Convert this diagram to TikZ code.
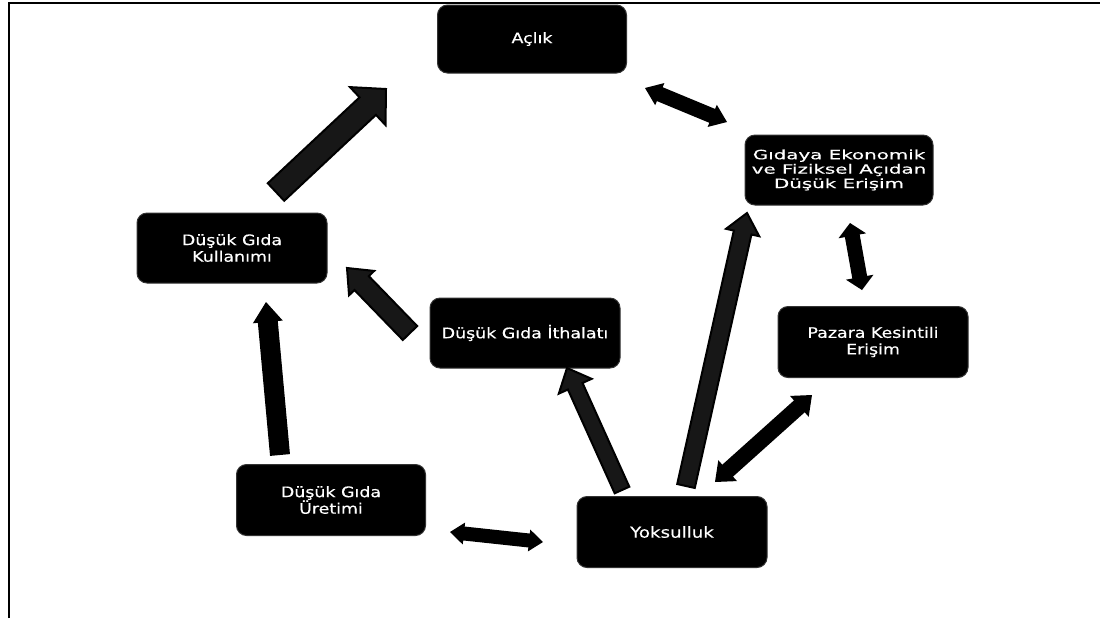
\documentclass[tikz,border=0pt]{standalone}
\usepackage{fontspec}
\usetikzlibrary{calc}
\newfontfamily\boxfnt[FakeStretch=1.2,FakeBold=0.4]{DejaVu Sans}
\newfontfamily\gidfnt[FakeStretch=1.55,FakeBold=0.4]{DejaVu Sans}
% one-headed block arrow: style, tail, tip, half shaft, half head, head length
\newcommand\blockarrow[6]{%
  \path ($(#3)!#6!(#2)$) coordinate (bahb);
  \filldraw[#1] ($(#2)!#4!90:(#3)$) -- ($(bahb)!#4!90:(#3)$) -- ($(bahb)!#5!90:(#3)$)
    -- (#3) -- ($(bahb)!#5!-90:(#3)$) -- ($(bahb)!#4!-90:(#3)$) -- ($(#2)!#4!-90:(#3)$) -- cycle;
}
% two-headed block arrow: style, tip A, tip B, half shaft, half head, head length
\newcommand\dblockarrow[6]{%
  \path ($(#2)!#6!(#3)$) coordinate (dbha);
  \path ($(#3)!#6!(#2)$) coordinate (dbhb);
  \filldraw[#1] (#2) -- ($(dbha)!#5!-90:(#3)$) -- ($(dbha)!#4!-90:(#3)$)
    -- ($(dbhb)!#4!90:(#2)$) -- ($(dbhb)!#5!90:(#2)$) -- (#3)
    -- ($(dbhb)!#5!-90:(#2)$) -- ($(dbhb)!#4!-90:(#2)$)
    -- ($(dbha)!#4!90:(#3)$) -- ($(dbha)!#5!90:(#3)$) -- cycle;
}
\tikzset{
  box/.style={rectangle, rounded corners=5pt, fill=black, draw=black!80, line width=0.5pt,
    text=white, minimum width=95pt, minimum height=35pt, inner sep=0pt, align=center,
    font=\boxfnt\fontsize{7.25}{8.3}\selectfont},
  outlined/.style={fill=black!91, draw=black, line width=1pt, line join=miter},
  solidarrow/.style={fill=black, draw=none},
  frame/.style={draw=black, line width=0.9pt}
}
\begin{document}
\begin{tikzpicture}[x=0.5pt, y=-0.5pt]
\useasboundingbox (0,0) rectangle (1100,618);
\draw[frame] (9,618) -- (9,3) -- (1100,3);

\node[box, minimum width=94.5pt, minimum height=34pt] (acl) at (532,39) {Açlık};
\node[box, minimum width=94pt, font=\gidfnt\fontsize{6.4}{7.2}\selectfont] (gid) at (839,170) {Gıdaya Ekonomik\\ve Fiziksel Açıdan\\Düşük Erişim};
\node[box] (kul) at (232,248) {Düşük Gıda\\Kullanımı};
\node[box] (ith) at (525,333) {Düşük Gıda İthalatı};
\node[box, minimum height=35.5pt] (paz) at (873,342) {Pazara Kesintili\\Erişim};
\node[box, minimum width=94.5pt, minimum height=35.5pt] (ure) at (331,500) {Düşük Gıda\\Üretimi};
\node[box, minimum height=35.5pt, font=\boxfnt\fontsize{7.6}{8.6}\selectfont] (yok) at (672,532) {Yoksulluk};

% arrow end points
\coordinate (a1t) at (276,192); \coordinate (a1h) at (386,89);
\coordinate (a2a) at (645,88);  \coordinate (a2b) at (727,122);
\coordinate (a3a) at (850,223); \coordinate (a3b) at (862,290);
\coordinate (a4a) at (812,395); \coordinate (a4b) at (715,482);
\coordinate (a5t) at (686,486); \coordinate (a5h) at (747,213);
\coordinate (a6t) at (622,490); \coordinate (a6h) at (567,368);
\coordinate (a7t) at (410,333); \coordinate (a7h) at (347,268);
\coordinate (a8t) at (280,455); \coordinate (a8h) at (266,302);
\coordinate (a9a) at (450,532); \coordinate (a9b) at (543,542);

\blockarrow{outlined}{a1t}{a1h}{6pt}{13pt}{12.5pt}
\dblockarrow{solidarrow}{a2a}{a2b}{3.75pt}{6pt}{8pt}
\dblockarrow{solidarrow}{a3a}{a3b}{3.75pt}{7pt}{6.5pt}
\dblockarrow{solidarrow}{a4a}{a4b}{4pt}{7pt}{8.5pt}
\blockarrow{outlined}{a5t}{a5h}{4.5pt}{8.5pt}{10pt}
\blockarrow{outlined}{a6t}{a6h}{4pt}{9pt}{10pt}
\blockarrow{outlined}{a7t}{a7h}{5pt}{8.75pt}{10.5pt}
\blockarrow{solidarrow}{a8t}{a8h}{5pt}{7.5pt}{10pt}
\dblockarrow{solidarrow}{a9a}{a9b}{3.5pt}{5.5pt}{7pt}
\end{tikzpicture}
\end{document}
